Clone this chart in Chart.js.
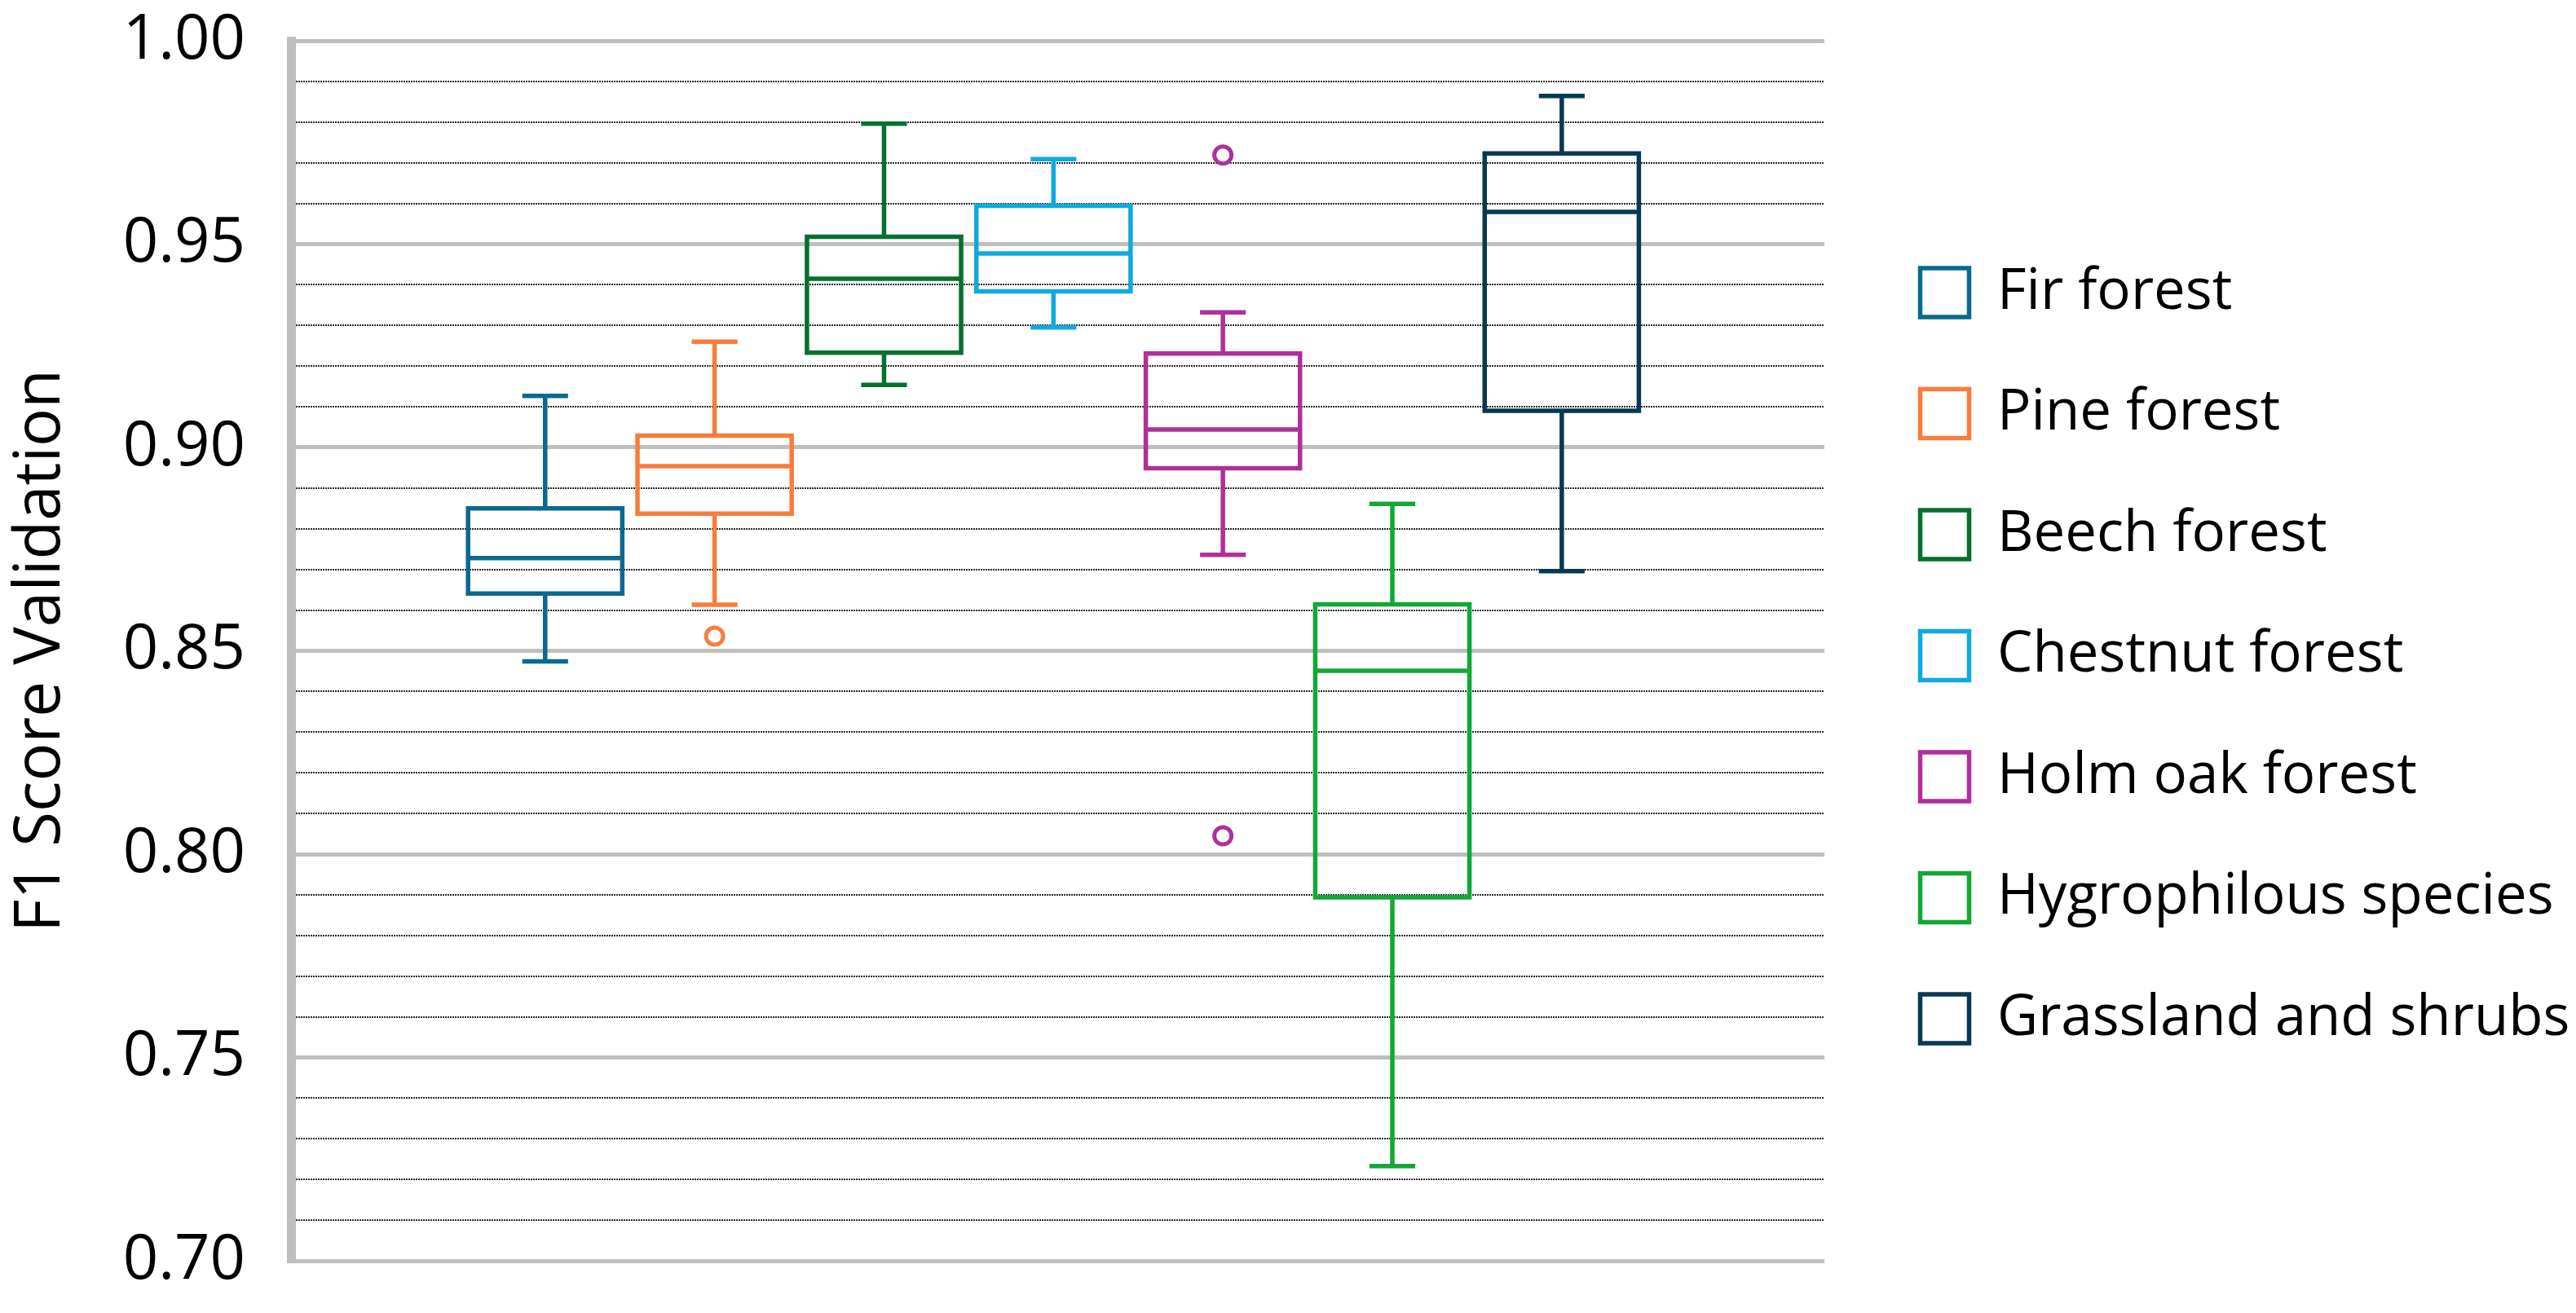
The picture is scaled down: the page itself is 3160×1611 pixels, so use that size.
<!DOCTYPE html>
<html>
<head>
<meta charset="utf-8">
<title>F1 Score Validation</title>
<script src="https://cdn.jsdelivr.net/npm/chart.js@4.4.1/dist/chart.umd.min.js"></script>
<style>
  html, body { margin: 0; padding: 0; background: #fff; }
  #wrap { width: 3160px; height: 1611px; }
</style>
</head>
<body>
<div id="wrap"><canvas id="chart" width="3160" height="1611"></canvas></div>
<script>
// forest classes, one box each
const categories = ["Fir forest", "Pine forest", "Beech forest", "Chestnut forest",
  "Holm oak forest", "Hygrophilous species", "Grassland and shrubs"]
const colors = ["#0a6a8d", "#f87d3c", "#05702f", "#10a9df", "#b0309a", "#12a837", "#073a52"]

// box statistics
const whiskerLow  = [0.8474, 0.8613, 0.9154, 0.9295, 0.8736, 0.7233, 0.8696]
const q1          = [0.8641, 0.8837, 0.9233, 0.9384, 0.8949, 0.7894, 0.9090]
const median      = [0.8728, 0.8954, 0.9415, 0.9477, 0.9044, 0.8451, 0.9579]
const q3          = [0.8850, 0.9029, 0.9518, 0.9594, 0.9231, 0.8614, 0.9723]
const whiskerHigh = [0.9127, 0.9260, 0.9796, 0.9709, 0.9332, 0.8861, 0.9864]
const outliers    = [[], [0.8536], [], [], [0.9719, 0.8045], [], []]

// y axis
const yMin = 0.70
const yMax = 1.00
const yStep = 0.01

const FONT = "'Open Sans', 'Noto Sans', sans-serif"
const BOX_HALF = 0.455
const CAP_HALF = 0.135
const LEGEND_WIDTH = 884
const LEGEND_SHIFT = 6

const isMajor = (v) => Math.round(v * 100) % 5 === 0

function boxPoints(i) {
  const gap = () => ({ x: i, y: null })
  const l = i - BOX_HALF, r = i + BOX_HALF
  const pts = [
    { x: l, y: q1[i] }, { x: r, y: q1[i] }, { x: r, y: q3[i] }, { x: l, y: q3[i] },
    { x: l, y: q1[i] }, { x: r, y: q1[i] }, gap(),
    { x: l, y: median[i] }, { x: r, y: median[i] }, gap(),
    { x: i, y: q3[i] }, { x: i, y: whiskerHigh[i] }, gap(),
    { x: i - CAP_HALF, y: whiskerHigh[i] }, { x: i + CAP_HALF, y: whiskerHigh[i] }, gap(),
    { x: i, y: q1[i] }, { x: i, y: whiskerLow[i] }, gap(),
    { x: i - CAP_HALF, y: whiskerLow[i] }, { x: i + CAP_HALF, y: whiskerLow[i] }, gap()
  ]
  outliers[i].forEach(v => pts.push({ x: i, y: v, outlier: true }, gap()))
  return pts
}

const datasets = categories.map((name, i) => ({
  label: name,
  data: boxPoints(i),
  borderColor: colors[i],
  backgroundColor: "#ffffff",
  borderWidth: 5.5,
  borderJoinStyle: "miter",
  borderCapStyle: "butt",
  spanGaps: false,
  tension: 0,
  fill: false,
  pointRadius: (ctx) => (ctx.raw && ctx.raw.outlier ? 10.5 : 0),
  pointHoverRadius: (ctx) => (ctx.raw && ctx.raw.outlier ? 10.5 : 0),
  pointBorderColor: colors[i],
  pointBackgroundColor: "#ffffff",
  pointBorderWidth: 5
}))

// the layout caps a side legend at a quarter of the canvas; the long labels need more
const wideLegend = {
  id: "wideLegend",
  beforeLayout(chart) {
    const lg = chart.legend
    if (!lg || lg.$wide) return
    const fit = lg.fit.bind(lg)
    lg.fit = function () { fit(); this.width = LEGEND_WIDTH }
    lg.$wide = true
  },
  afterLayout(chart) {
    const lg = chart.legend
    if (!lg) return
    lg.top += LEGEND_SHIFT
    lg.bottom += LEGEND_SHIFT
  }
}

new Chart(document.getElementById("chart").getContext("2d"), {
  type: "line",
  data: { datasets },
  plugins: [wideLegend],
  options: {
    responsive: false,
    animation: false,
    devicePixelRatio: 1,
    events: [],
    layout: { padding: { left: 0, top: 50, right: 0, bottom: 64 } },
    plugins: {
      tooltip: { enabled: false },
      legend: {
        position: "right",
        align: "center",
        labels: {
          color: "#000",
          font: { family: FONT, size: 69 },
          boxWidth: 60,
          boxHeight: 60,
          padding: 79.5
        }
      }
    },
    scales: {
      x: { type: "linear", display: false, min: -1.5, max: 7.55 },
      y: {
        type: "linear",
        position: "left",
        min: yMin,
        max: yMax,
        afterFit: (s) => { s.width = 357 },
        ticks: {
          stepSize: yStep,
          autoSkip: false,
          padding: 0,
          color: "#000",
          font: { family: FONT, size: 76 },
          callback: (v) => (isMajor(v) ? v.toFixed(2) : "")
        },
        grid: {
          drawTicks: true,
          tickLength: 56,
          tickColor: "rgba(0,0,0,0)",
          color: (ctx) => (ctx.tick && !isMajor(ctx.tick.value) ? "#2a2a2a" : "#bfbfbf"),
          lineWidth: (ctx) => (ctx.tick && !isMajor(ctx.tick.value) ? 2 : 5)
        },
        border: {
          display: true,
          color: "#bfbfbf",
          width: 11,
          dash: (ctx) => (ctx.tick && !isMajor(ctx.tick.value) ? [2, 1] : [])
        },
        title: {
          display: true,
          text: "F1 Score Validation",
          color: "#000",
          font: { family: FONT, size: 78, lineHeight: 1.2 },
          padding: { top: 4, bottom: 0 }
        }
      },
      gapAxis: {
        type: "linear",
        position: "right",
        display: true,
        afterFit: (s) => { s.width = 38 },
        grid: { display: false, drawTicks: false },
        border: { display: false },
        ticks: { display: false }
      }
    }
  }
})
</script>
</body>
</html>
